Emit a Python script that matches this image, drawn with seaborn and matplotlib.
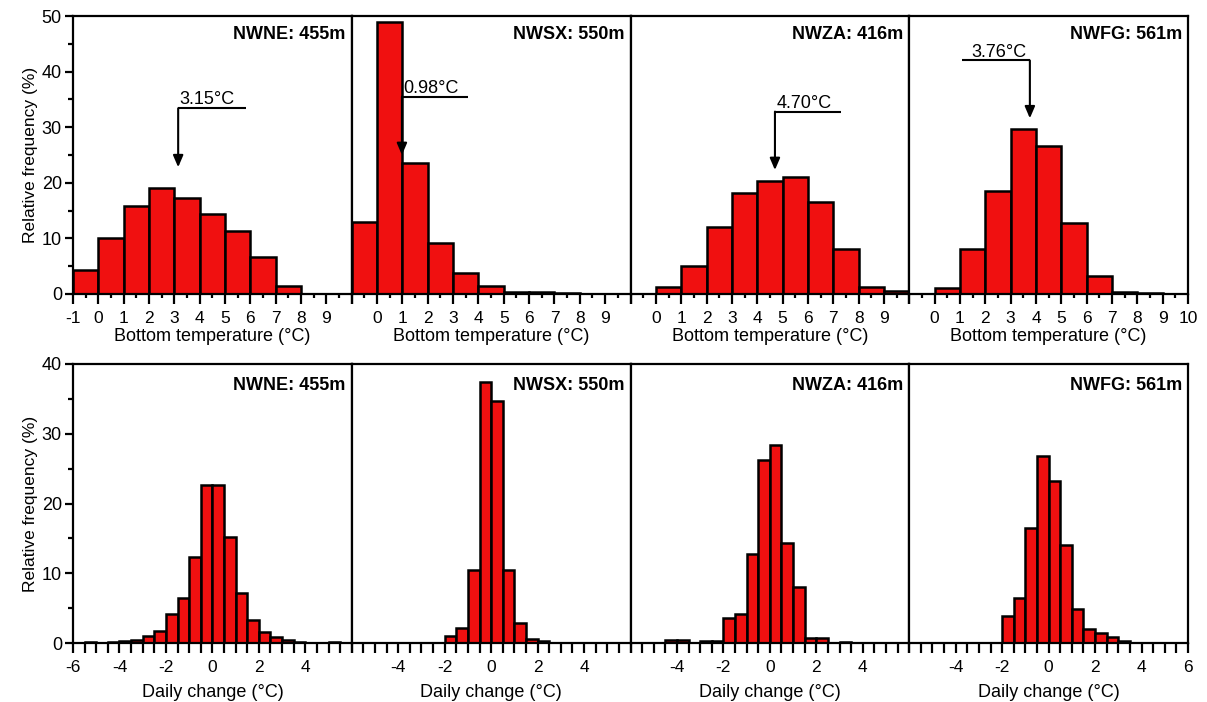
import numpy as np
import pandas as pd
import matplotlib
matplotlib.use("Agg")
import matplotlib.pyplot as plt
from matplotlib.ticker import MultipleLocator, FixedLocator
import seaborn as sns

# ---- data -------------------------------------------------------------
stations = ["NWNE: 455m", "NWSX: 550m", "NWZA: 416m", "NWFG: 561m"]

# bottom temperature histogram: bins from -1 to 10 degC, 1 degC wide
temp_edges = [-1, 0, 1, 2, 3, 4, 5, 6, 7, 8, 9, 10]
temp_nwne = [4.4, 10.0, 15.8, 19.1, 17.2, 14.3, 11.4, 6.6, 1.5, 0.0, 0.0]
temp_nwsx = [12.9, 49.0, 23.5, 9.2, 3.8, 1.4, 0.4, 0.3, 0.2, 0.0, 0.0]
temp_nwza = [0.0, 1.2, 5.0, 12.1, 18.2, 20.3, 21.1, 16.5, 8.1, 1.2, 0.5]
temp_nwfg = [0.0, 1.0, 8.1, 18.6, 29.6, 26.6, 12.7, 3.2, 0.4, 0.2, 0.0]

# mean bottom temperature per station
temp_means = [3.15, 0.98, 4.70, 3.76]

# daily change histogram: bins from -6 to 6 degC, 0.5 degC wide
diff_edges = [-6.0, -5.5, -5.0, -4.5, -4.0, -3.5, -3.0, -2.5, -2.0, -1.5, -1.0,
              -0.5, 0.0, 0.5, 1.0, 1.5, 2.0, 2.5, 3.0, 3.5, 4.0, 4.5, 5.0,
              5.5, 6.0]
diff_nwne = [0.0, 0.1, 0.0, 0.15, 0.3, 0.5, 1.0, 1.7, 4.1, 6.5, 12.4, 22.6,
             22.6, 15.2, 7.2, 3.3, 1.6, 0.8, 0.4, 0.2, 0.0, 0.0, 0.1, 0.0]
diff_nwsx = [0.0, 0.0, 0.0, 0.0, 0.0, 0.0, 0.0, 0.0, 1.0, 2.2, 10.4, 37.4,
             34.7, 10.4, 2.9, 0.6, 0.3, 0.0, 0.0, 0.0, 0.0, 0.0, 0.0, 0.0]
diff_nwza = [0.0, 0.0, 0.0, 0.5, 0.5, 0.0, 0.3, 0.3, 3.6, 4.1, 12.8, 26.2,
             28.4, 14.4, 8.0, 0.7, 0.7, 0.0, 0.2, 0.0, 0.0, 0.0, 0.0, 0.0]
diff_nwfg = [0.0, 0.0, 0.0, 0.0, 0.0, 0.0, 0.0, 0.0, 3.9, 6.4, 16.5, 26.8,
             23.2, 14.1, 4.9, 2.0, 1.4, 0.8, 0.3, 0.0, 0.0, 0.0, 0.0, 0.0]

temp_series = [temp_nwne, temp_nwsx, temp_nwza, temp_nwfg]
diff_series = [diff_nwne, diff_nwsx, diff_nwza, diff_nwfg]

# tick labels shown on each panel
temp_ticklabels = [list(range(-1, 10)), list(range(0, 10)),
                   list(range(0, 10)), list(range(0, 11))]
diff_ticklabels = [[-6, -4, -2, 0, 2, 4], [-4, -2, 0, 2, 4],
                   [-4, -2, 0, 2, 4], [-4, -2, 0, 2, 4, 6]]

# ---- styling -------------------------------------------------------------
sns.set_style("ticks")
plt.rcParams["font.family"] = ["Liberation Sans", "DejaVu Sans"]
for key in ["text.color", "axes.labelcolor", "xtick.color", "ytick.color",
            "axes.edgecolor"]:
    plt.rcParams[key] = "black"
plt.rcParams["axes.linewidth"] = 1.6
plt.rcParams["xtick.major.width"] = 1.6
plt.rcParams["xtick.minor.width"] = 1.6
plt.rcParams["ytick.major.width"] = 1.6
plt.rcParams["ytick.minor.width"] = 1.6
plt.rcParams["xtick.direction"] = "out"
plt.rcParams["ytick.direction"] = "out"

BAR_RED = "#F01010"
XTICK_FS = 12.5
YTICK_FS = 13
XLABEL_FS = 13
YLABEL_FS = 12.5
STATION_FS = 13
NOTE_FS = 13

fig = plt.figure(figsize=(12.07, 7.02), dpi=100)

left, right = 73 / 1207, 1188 / 1207
pw = (right - left) / 4
top_row = (0.5812, 0.3960)
bot_row = (0.0840, 0.3975)

# mean-arrow geometry (in data units): bar y, end of bar x, arrow tip y
arrow_geom = [
    (33.4, 5.82, 22.8, "right"),
    (35.5, 3.57, 25.0, "right"),
    (32.8, 7.29, 22.3, "right"),
    (42.0, 1.08, 31.6, "left"),
]


def draw_hist(ax, edges, values):
    centers = [(a + b) / 2 for a, b in zip(edges[:-1], edges[1:])]
    df = pd.DataFrame({"x": centers, "w": values})
    sns.histplot(data=df, x="x", weights="w", bins=list(edges), stat="count",
                 color=BAR_RED, alpha=1.0, edgecolor="black", linewidth=1.8,
                 ax=ax)


def style_y(ax, first):
    if first:
        ax.yaxis.set_major_locator(MultipleLocator(10))
        ax.yaxis.set_minor_locator(MultipleLocator(5))
        ax.tick_params(axis="y", which="major", length=6, labelsize=YTICK_FS,
                       pad=2)
        ax.tick_params(axis="y", which="minor", length=3.5)
        ax.set_ylabel("Relative frequency (%)", fontsize=YLABEL_FS, labelpad=3)
    else:
        ax.set_yticks([])
        ax.set_ylabel("")
    for s in ax.spines.values():
        s.set_visible(True)


for i in range(4):
    # ---------- top row: bottom temperature ----------
    ax = fig.add_axes([left + i * pw, top_row[0], pw, top_row[1]])
    draw_hist(ax, temp_edges, temp_series[i])
    ax.set_xlim(-1, 10)
    ax.set_ylim(0, 50)
    ax.xaxis.set_major_locator(FixedLocator(np.arange(-1, 11, 1)))
    ax.xaxis.set_minor_locator(MultipleLocator(0.5))
    ax.set_xticklabels([str(t) if t in temp_ticklabels[i] else ""
                        for t in range(-1, 11)])
    ax.tick_params(axis="x", which="major", length=7, labelsize=XTICK_FS,
                   pad=5)
    ax.tick_params(axis="x", which="minor", length=3)
    ax.set_xlabel("Bottom temperature (°C)", fontsize=XLABEL_FS, labelpad=2)
    style_y(ax, i == 0)
    ax.text(0.978, 0.965, stations[i], transform=ax.transAxes, ha="right",
            va="top", fontsize=STATION_FS, fontweight="bold")

    # mean marker: horizontal bar with a downward arrow at the mean
    m = temp_means[i]
    ly, lx_end, tip, side = arrow_geom[i]
    ax.plot([m, lx_end], [ly, ly], color="black", lw=1.5, solid_capstyle="butt")
    ax.annotate("", xy=(m, tip), xytext=(m, ly),
                arrowprops=dict(arrowstyle="-|>,head_width=0.3,head_length=0.7",
                                color="black", lw=1.5, shrinkA=0, shrinkB=0))
    label = f"{m:.2f}°C"
    if side == "right":
        ax.text(m + 0.06, ly + 0.7, label, ha="left", va="baseline",
                fontsize=NOTE_FS)
    else:
        ax.text(m - 0.12, ly + 0.7, label, ha="right", va="baseline",
                fontsize=NOTE_FS)

    # ---------- bottom row: daily change ----------
    ax = fig.add_axes([left + i * pw, bot_row[0], pw, bot_row[1]])
    draw_hist(ax, diff_edges, diff_series[i])
    ax.set_xlim(-6, 6)
    ax.set_ylim(0, 40)
    ax.xaxis.set_major_locator(FixedLocator(diff_ticklabels[i]))
    ax.xaxis.set_minor_locator(MultipleLocator(0.5))
    ax.set_xticklabels([str(t) for t in diff_ticklabels[i]])
    ax.tick_params(axis="x", which="both", length=7, labelsize=XTICK_FS, pad=5)
    ax.set_xlabel("Daily change (°C)", fontsize=XLABEL_FS, labelpad=7)
    style_y(ax, i == 0)
    ax.text(0.978, 0.955, stations[i], transform=ax.transAxes, ha="right",
            va="top", fontsize=STATION_FS, fontweight="bold")

fig.savefig("out.png", dpi=100)
